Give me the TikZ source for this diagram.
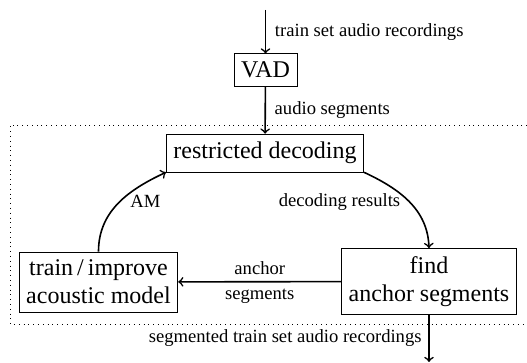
\documentclass[tikz,border=0pt]{standalone}
\usepackage{fontspec}
\setmainfont{Liberation Serif}
\begin{document}
\begin{tikzpicture}[x=0.5pt,y=0.5pt,
	stage/.style={draw,font=\large,align=center,inner xsep=3.5pt,inner ysep=4pt},
	flow/.style={->,thick},
	lbl/.style={font=\fontsize{9.3}{11}\selectfont}]
\useasboundingbox (0,0) rectangle (527,363);
\node[stage] (vad) at (265.5,293) {VAD};
\node[stage] (decode) at (265,210) {restricted decoding};
\node[stage] (train) at (98.5,81) {train\,/\,improve\\acoustic model};
\node[stage] (anchors) at (429,81.5) {find\\anchor segments};
\coordinate (input) at (265.5,353);
\coordinate (output) at (429,1);
\draw[dotted] (527,238) -- (10,238) -- (10,39) -- (527,39);
\draw[flow] (input) -- node[lbl,right,xshift=1pt] {train set audio recordings} (vad);
\draw[flow] (vad) -- node[lbl,right,xshift=1pt] {audio segments} (decode);
\draw[flow] (decode.south east) to[out=-25,in=92]
	node[lbl,pos=.35,anchor=north east,xshift=5pt,yshift=3pt] {decoding results} (anchors.north);
\draw[flow] (anchors) -- node[lbl,above] {anchor} node[lbl,below] {segments} (train);
\draw[flow] (train.north) to[out=90,in=205]
	node[lbl,pos=.45,anchor=west,xshift=4pt,yshift=3pt] {AM} (decode.south west);
\draw[flow] (anchors) -- node[lbl,left] {segmented train set audio recordings} (output);
\end{tikzpicture}
\end{document}
